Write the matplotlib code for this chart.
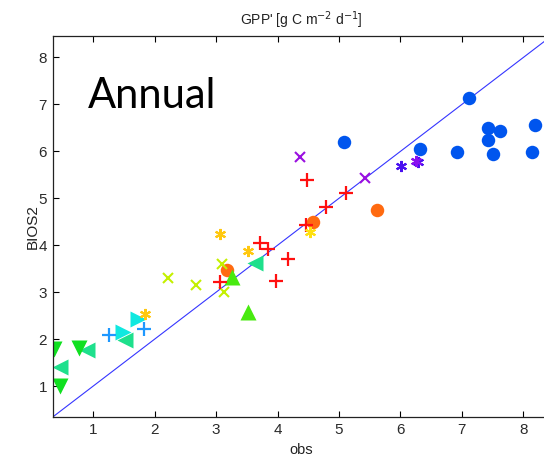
import matplotlib
matplotlib.use("Agg")
import matplotlib.pyplot as plt

# site groups (obs, BIOS2)
blue_dots_obs = [7.11, 5.08, 6.32, 6.92, 7.42, 7.62, 7.43, 7.51, 8.19, 8.14]
blue_dots_mod = [7.13, 6.19, 6.04, 5.98, 6.50, 6.44, 6.25, 5.95, 6.57, 5.99]

orange_dots_obs = [5.62, 4.58, 3.17]
orange_dots_mod = [4.76, 4.49, 3.48]

purple_x_obs = [4.36, 5.43]
purple_x_mod = [5.88, 5.43]

blue_star_obs = [6.01, 6.28]
blue_star_mod = [5.69, 5.77]
violet_star_obs = [6.25]
violet_star_mod = [5.80]

red_plus_obs = [4.48, 5.12, 4.79, 4.46, 4.17, 3.71, 3.85, 3.97, 3.06]
red_plus_mod = [5.40, 5.12, 4.81, 4.43, 3.71, 4.05, 3.91, 3.23, 3.21]

gold_star_obs = [3.06, 3.52, 1.84, 4.53]
gold_star_mod = [4.23, 3.87, 2.54, 4.28]

lime_x_obs = [2.22, 2.67, 3.10, 3.12]
lime_x_mod = [3.31, 3.16, 3.60, 3.01]

green_up_obs = [3.52, 3.25]
green_up_mod = [2.58, 3.33]

teal_left_obs = [3.63, 0.46, 0.90, 1.52]
teal_left_mod = [3.62, 1.41, 1.76, 1.98]

green_down_obs = [0.36, 0.46, 0.76]
green_down_mod = [1.78, 0.99, 1.81]

cyan_right_obs = [1.49, 1.73]
cyan_right_mod = [2.16, 2.43]

sky_plus_obs = [1.25, 1.82]
sky_plus_mod = [2.09, 2.21]

ASTERISK = (6, 2, 0)
FONT = ['Liberation Sans', 'DejaVu Sans']

fig = plt.figure(figsize=(5.44, 4.59), dpi=100)
ax = fig.add_axes([53.3/544, 42.3/459, 496.7/544, 380.7/459])

ax.plot([0.2, 8.8], [0.2, 8.8], color='#3535ff', lw=0.8, zorder=1)

def pts(xs, ys, marker, color, size, lw=0, z=2):
    if marker in ('+', 'x', ASTERISK):
        ax.plot(xs, ys, ls='none', marker=marker, ms=size, mew=lw,
                color=color, zorder=z)
    else:
        ax.plot(xs, ys, ls='none', marker=marker, ms=size, mec='none',
                color=color, zorder=z)

pts(blue_dots_obs, blue_dots_mod, 'o', '#0055ee', 9.7)
pts(orange_dots_obs, orange_dots_mod, 'o', '#ff6a10', 9.7)
pts(green_up_obs, green_up_mod, '^', '#48ea10', 11)
pts(teal_left_obs, teal_left_mod, '<', '#1ee08c', 11)
pts(green_down_obs, green_down_mod, 'v', '#10e020', 11)
pts(cyan_right_obs, cyan_right_mod, '>', '#10e8e0', 11)
pts(lime_x_obs, lime_x_mod, 'x', '#c4f000', 7, 1.5, 3)
pts(purple_x_obs, purple_x_mod, 'x', '#9a10e0', 7, 1.5, 3)
pts(red_plus_obs, red_plus_mod, '+', '#ff1010', 9.5, 1.6, 3)
pts(sky_plus_obs, sky_plus_mod, '+', '#1e98ff', 9.5, 1.6, 3)
pts(gold_star_obs[:3], gold_star_mod[:3], ASTERISK, '#ffc810', 8, 1.5, 3)
pts(gold_star_obs[3:], gold_star_mod[3:], ASTERISK, '#ffe010', 8, 1.5, 3)
pts(blue_star_obs, blue_star_mod, ASTERISK, '#4a10f0', 8, 1.5, 3)
pts(violet_star_obs, violet_star_mod, ASTERISK, '#8a10f0', 8, 1.5, 3)

ax.set_xlim(0.349, 0.349 + 496.7/61.43)
ax.set_ylim(0.346, 8.458)
ax.set_xticks(range(1, 9))
ax.set_yticks(range(1, 9))
ax.tick_params(direction='in', length=4, width=0.8, top=True, right=True,
               labelsize=11, labelcolor='#2a2a2a', pad=4.5)
for lab in ax.get_xticklabels() + ax.get_yticklabels():
    lab.set_family(FONT)
for s in ax.spines.values():
    s.set_linewidth(0.9)
    s.set_color('#222222')

ax.set_title("GPP' [g C m$^{-2}$ d$^{-1}$]", fontsize=10, color='#222222',
             pad=8, family=FONT)
ax.set_xlabel('obs', fontsize=10.5, color='#222222', labelpad=4, family=FONT)
ax.set_ylabel('BIOS2', fontsize=11, color='#222222', labelpad=-1, family=FONT)

ax.text((88 - 53.3)/496.7, (416.7 - 108.5)/380.7, 'Annual',
        transform=ax.transAxes, fontsize=30, family='Lato', color='black',
        va='baseline', ha='left')

fig.savefig('out.png', dpi=100)
